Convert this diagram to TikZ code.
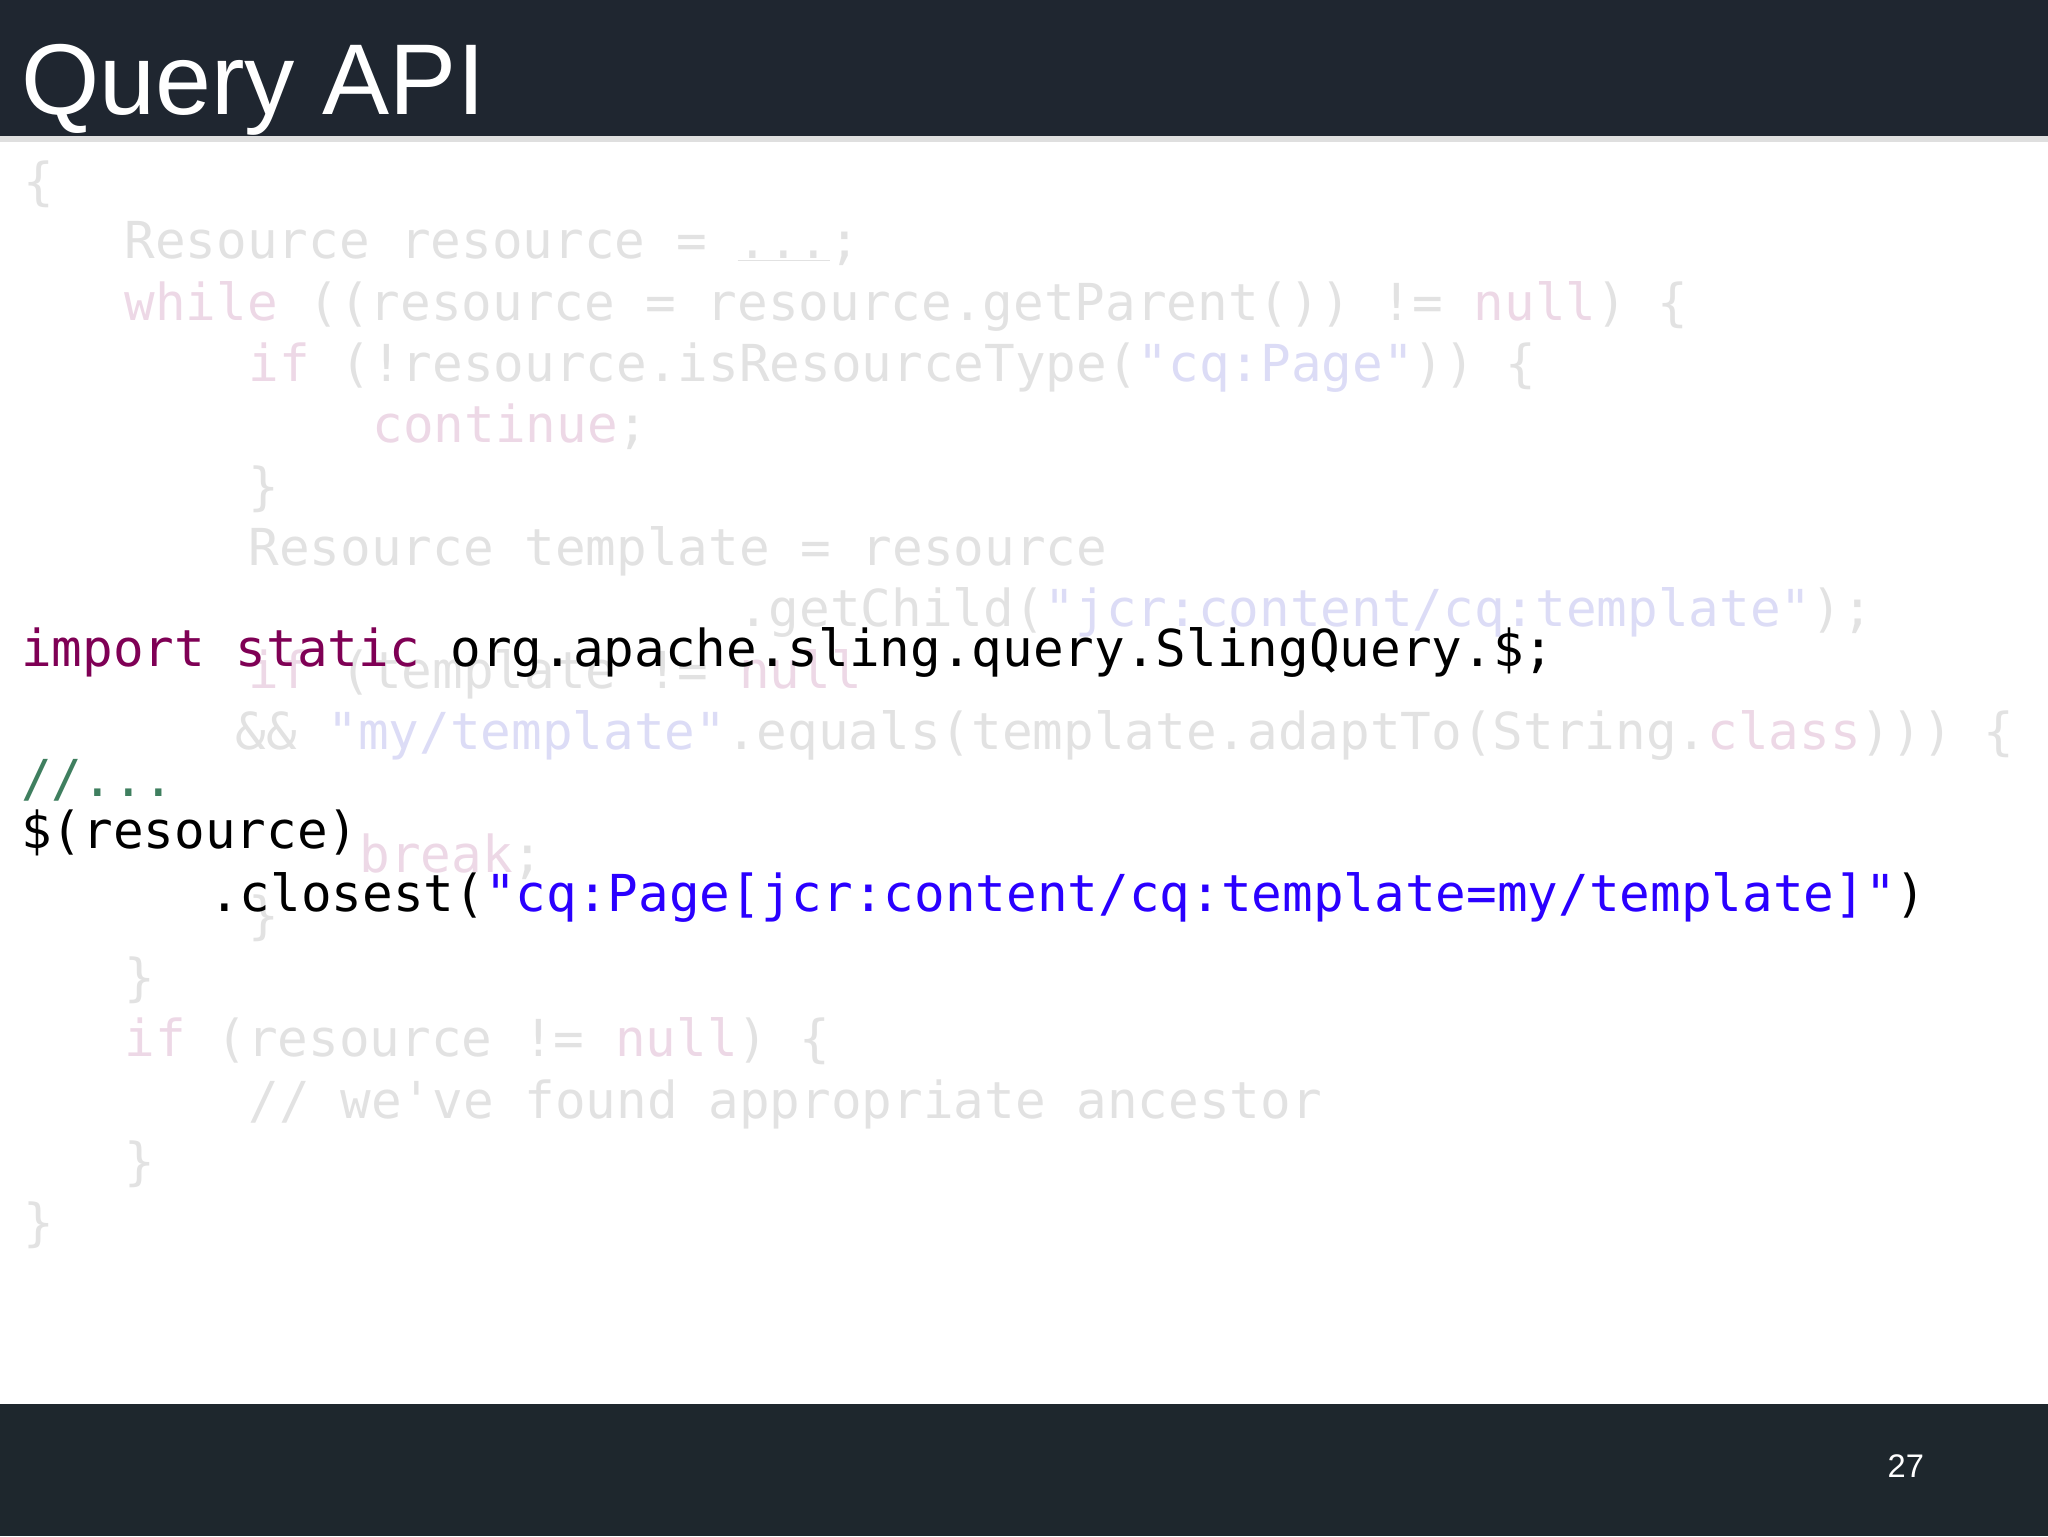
\documentclass[tikz,border=0pt]{standalone}
\usepackage{fontspec}
\setmainfont{Liberation Sans}
\setmonofont{DejaVu Sans Mono}
\definecolor{barA}{HTML}{1F2630}
\definecolor{barB}{HTML}{1E272D}
\definecolor{fg}{HTML}{E2E2E2}
\definecolor{fk}{HTML}{EDD8E6}
\definecolor{fs}{HTML}{DCDCF6}
\definecolor{kw}{HTML}{7F0055}
\definecolor{cm}{HTML}{3F7F5F}
\definecolor{st}{HTML}{2A00FF}
\tikzset{code/.style={anchor=base west,inner sep=0pt,font=\fontsize{39}{39}\ttfamily}}
\begin{document}
\begin{tikzpicture}[x=1pt,y=-1pt]
\useasboundingbox (0,0) rectangle (1568,1176);
\fill[white] (0,0) rectangle (1568,1176);
\fill[barA] (0,0) rectangle (1568,104);
\fill[gray!25] (0,104) rectangle (1568,109);
\fill[barB] (0,1075) rectangle (1568,1176);
\node[anchor=base west,inner sep=0pt,text=white,font=\fontsize{77}{77}\selectfont] (title) at (16,88) {Query API};
\node[anchor=base west,inner sep=0pt,text=white,font=\fontsize{25}{25}\selectfont] (page) at (1445,1131) {27};
% faded code
\begin{scope}[every node/.style={code,text=fg}]
\node (b1) at (18,153) {\{};
\node (b2) at (95,198) {Resource resource = \underline{...};};
\node (b3) at (95,245) {\textcolor{fk}{while} ((resource = resource.getParent()) != \textcolor{fk}{null}) \{};
\node (b4) at (190,292) {\textcolor{fk}{if} (!resource.isResourceType(\textcolor{fs}{"cq:Page"})) \{};
\node (b5) at (285,339) {\textcolor{fk}{continue};};
\node (b6) at (190,386) {\}};
\node (b7) at (190,433) {Resource template = resource};
\node (b8) at (565,480) {.getChild(\textcolor{fs}{"jcr:content/cq:template"});};
\node (b9) at (190,527) {\textcolor{fk}{if} (template != \textcolor{fk}{null}};
\node (b10) at (180,574) {\&\& \textcolor{fs}{"my/template"}.equals(template.adaptTo(String.\textcolor{fk}{class}))) \{};
\node (b11) at (275,668) {\textcolor{fk}{break};};
\node (b12) at (190,715) {\}};
\node (b13) at (95,762) {\}};
\node (b14) at (95,809) {\textcolor{fk}{if} (resource != \textcolor{fk}{null}) \{};
\node (b15) at (190,856) {// we've found appropriate ancestor};
\node (b16) at (95,903) {\}};
\node (b17) at (18,950) {\}};
\end{scope}
% foreground code
\begin{scope}[every node/.style={code,text=black}]
\node (f1) at (16,510) {\textcolor{kw}{import static} org.apache.sling.query.SlingQuery.\$;};
\node (f2) at (16,610) {\textcolor{cm}{//...}};
\node (f3) at (16,650) {\$(resource)};
\node (f4) at (160,698) {.closest(\textcolor{st}{"cq:Page[jcr:content/cq:template=my/template]"})};
\end{scope}
\end{tikzpicture}
\end{document}
